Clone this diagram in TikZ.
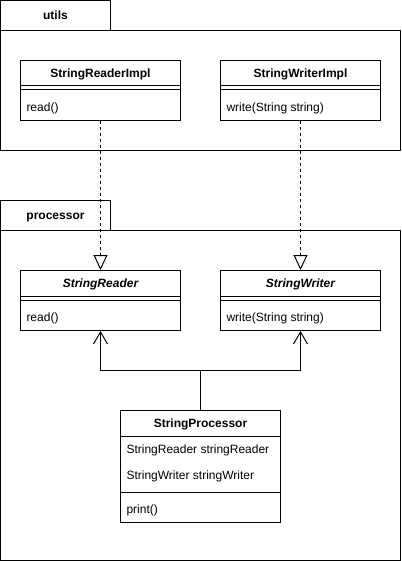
\documentclass[tikz,border=0pt]{standalone}
\usepackage{fontspec}
\setmainfont{Liberation Sans}
\usetikzlibrary{arrows.meta, positioning}

\begin{document}
\begin{tikzpicture}[
    x=1pt, y=-1pt, % pixel units, y going down
    line width=1pt,
    every node/.append style={font=\fontsize{12}{14}\selectfont, text height=8.6pt, text depth=0pt},
    % Define package styles
    pkg tab/.style={
        draw, % Draw border
        rectangle,
        minimum width=110pt,
        minimum height=30pt,
        inner sep=0pt,
        font=\fontsize{12}{14}\selectfont\bfseries
      },
    pkg body/.style={
        draw,
        rectangle,
        minimum width=400pt,
        inner sep=0pt
      },
    % Define class styles
    class box/.style={
        draw,
        rectangle,
        minimum width=160pt,
        inner sep=0pt
      },
    class name/.style={
        minimum height=26pt,
        inner sep=0pt,
        font=\fontsize{12}{14}\selectfont\bfseries
      },
    iface name/.style={
        class name,
        font=\fontsize{12}{14}\selectfont\bfseries\itshape
      },
    member/.style={anchor=west, inner sep=0pt},
    % Define arrow styles
    realizes/.style={dash pattern=on 3pt off 3pt, -{Triangle[open, length=15pt, width=14pt, fill=white]}},
    uses/.style={-{Straight Barb[length=12pt, width=14pt]}}
  ]

  \useasboundingbox (-0.5,-0.5) rectangle (400.5,560.5);

  % Packages
  \node[pkg tab] (utilsTab) at (55,15) {utils}; % tab on top left
  \node[pkg body, minimum height=120pt] (utilsPkg) at (200,90) {};
  \node[pkg tab] (procTab) at (55,215) {processor};
  \node[pkg body, minimum height=330pt] (procPkg) at (200,395) {};

  % Classes in utils
  \node[class box, minimum height=60pt] (readerImpl) at (100,90) {};
  \node[class name, below=0pt of readerImpl.north] {StringReaderImpl};
  \node[member] at ([xshift=6pt, yshift=-47pt]readerImpl.north west) {read()};

  \node[class box, minimum height=60pt] (writerImpl) at (300,90) {};
  \node[class name, below=0pt of writerImpl.north] {StringWriterImpl};
  \node[member] at ([xshift=6pt, yshift=-47pt]writerImpl.north west) {write(String string)};

  % Interfaces in processor
  \node[class box, minimum height=60pt] (reader) at (100,300) {};
  \node[iface name, below=0pt of reader.north] {StringReader};
  \node[member] at ([xshift=6pt, yshift=-47pt]reader.north west) {read()};

  \node[class box, minimum height=60pt] (writer) at (300,300) {};
  \node[iface name, below=0pt of writer.north] {StringWriter};
  \node[member] at ([xshift=6pt, yshift=-47pt]writer.north west) {write(String string)};

  % header line and separator line of the small boxes
  \foreach \c in {readerImpl, writerImpl, reader, writer} {
    \draw ([yshift=-26pt]\c.north west) -- ([yshift=-26pt]\c.north east);
    \draw ([yshift=-30pt]\c.north west) -- ([yshift=-30pt]\c.north east);
  }

  % StringProcessor
  \node[class box, minimum height=112pt] (processor) at (200,466) {};
  \node[class name, below=0pt of processor.north] {StringProcessor};
  \draw ([yshift=-26pt]processor.north west) -- ([yshift=-26pt]processor.north east);
  \node[member] at ([xshift=6pt, yshift=-39pt]processor.north west) {StringReader stringReader};
  \node[member] at ([xshift=6pt, yshift=-65pt]processor.north west) {StringWriter stringWriter};
  \draw ([yshift=-82pt]processor.north west) -- ([yshift=-82pt]processor.north east);
  \node[member] at ([xshift=6pt, yshift=-99pt]processor.north west) {print()};

  % Realizations
  \draw[realizes] (readerImpl) -- (reader);
  \draw[realizes] (writerImpl) -- (writer);

  % Associations
  \coordinate (fork) at (200,370);
  \draw (processor) -- (fork);
  \draw[uses] (fork) -| (reader);
  \draw[uses] (fork) -| (writer);

\end{tikzpicture}
\end{document}
